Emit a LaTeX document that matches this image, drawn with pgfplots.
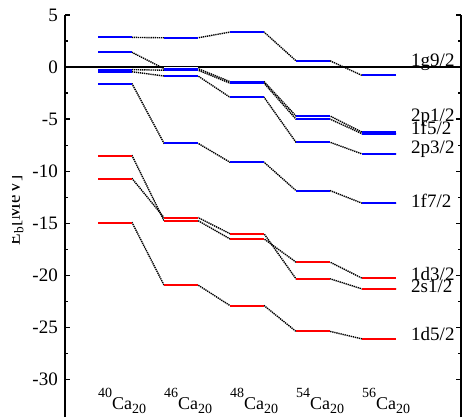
\documentclass[border=0pt]{standalone}
\usepackage{fontspec}
\setmainfont{Liberation Serif}
\usepackage{pgfplots}
\usepackage{pgfplotstable}
\pgfplotsset{compat=1.18}

% level energies (MeV); each nucleus gives two rows: left and right end of its bar
\pgfplotstableread{
x      d52     s12     d32     f72     p32    f52    p12    g92
-0.258 -14.93  -10.70  -8.50   -1.60   -0.45  -0.25  1.41   2.85
0.258  -14.93  -10.70  -8.50   -1.60   -0.45  -0.25  1.41   2.85
0.742  -20.93  -14.45  -14.75  -7.32   -0.86  -0.30  -0.15  2.81
1.258  -20.93  -14.45  -14.75  -7.32   -0.86  -0.30  -0.15  2.81
1.742  -22.90  -16.00  -16.50  -9.14   -2.90  -1.55  -1.40  3.36
2.258  -22.90  -16.00  -16.50  -9.14   -2.90  -1.55  -1.40  3.36
2.742  -25.38  -20.33  -18.73  -11.86  -7.22  -5.00  -4.70  0.60
3.258  -25.38  -20.33  -18.73  -11.86  -7.22  -5.00  -4.70  0.60
3.742  -26.10  -21.30  -20.27  -13.07  -8.34  -6.40  -6.25  -0.80
4.258  -26.10  -21.30  -20.27  -13.07  -8.34  -6.40  -6.25  -0.80
}\levels

\pgfplotsset{
  conn/.style={black, line width=1.4pt, dash pattern=on 1.3pt off 0.8pt},
  lev/.style 2 args={only marks, mark=-, mark size=17pt, #1,
    mark options={solid, line width=#2},
    each nth point=2, filter discard warning=false},
}

\begin{document}
\begin{tikzpicture}
\begin{axis}[
    name=ax,
    scale only axis,
    width=396pt, height=402pt,
    xmin=-0.758, xmax=5.242,
    ymin=-33.6, ymax=5,
    xtick=\empty,
    ytick={-30,-25,...,5},
    minor y tick num=1,
    separate axis lines,
    x axis line style={draw=none},
    y axis line style={line width=1.5pt},
    tick style={black, line width=1.3pt},
    major tick length=5pt, minor tick length=3pt,
    tick align=inside,
    ytick pos=both, yticklabel pos=left,
    tick label style={font=\fontsize{19}{22}\selectfont},
    /pgf/number format/assume math mode=true,
    yticklabel style={xshift=-3.7pt},
    clip=false,
  ]
% dotted connections (their flat parts are hidden under the bars)
\foreach \c in {d52,s12,d32,f72,p32,f52,p12,g92}{
  \addplot[conn] table[x=x, y=\c] {\levels};
}
% white underlay so the flat dotted parts do not show at the bar edges
\foreach \c in {d52,s12,d32,f72,p32,f52,p12,g92}{
  \addplot[lev={white}{3.2pt}] table[x expr=\thisrow{x}+0.258, y=\c] {\levels};
}
\addplot[black, line width=1.5pt] coordinates {(-0.758,0) (5.242,0)};
\foreach \c in {d52,s12,d32}{
  \addplot[lev={red}{2pt}] table[x expr=\thisrow{x}+0.258, y=\c] {\levels};
}
\foreach \c in {f72,p32,f52,p12,g92}{
  \addplot[lev={blue}{2pt}] table[x expr=\thisrow{x}+0.258, y=\c] {\levels};
}

% nucleus names
\foreach \a/\i in {40/0, 46/1, 48/2, 54/3, 56/4}{
  \edef\temp{\noexpand\node[anchor=base west, inner sep=0, font=\noexpand\fontsize{18}{20}\noexpand\selectfont]
    at (axis cs:\i-0.258,-32.85)
    {\noexpand\raisebox{11.5pt}{\noexpand\fontsize{14}{14}\noexpand\selectfont \a}Ca\noexpand\raisebox{-4.5pt}{\noexpand\fontsize{14}{14}\noexpand\selectfont 20}};}
  \temp
}

% level names
\foreach \t/\v in {{1g9/2}/0.05, {2p1/2}/-5.27, {1f5/2}/-6.52, {2p3/2}/-8.34,
                   {1f7/2}/-13.52, {1d3/2}/-20.52, {2s1/2}/-21.67, {1d5/2}/-26.27}{
  \edef\temp{\noexpand\node[anchor=base west, inner sep=0, font=\noexpand\fontsize{19}{22}\noexpand\selectfont]
    at (axis cs:4.485,\v) {\t};}
  \temp
}
\end{axis}

% y label, cut at the left edge as in the reference
\begin{scope}
\clip ([xshift=-52pt]ax.south west) rectangle ([xshift=-36pt]ax.north west);
\node[rotate=90, anchor=base, inner sep=0, font=\fontsize{19}{22}\selectfont]
  at ([xshift=-45pt, yshift=-195pt]ax.north west) {E\textsubscript{b}[MeV]};
\end{scope}

\pgfresetboundingbox
\useasboundingbox ([xshift=-65pt]ax.south west) rectangle ([xshift=1pt, yshift=15pt]ax.north east);
\end{tikzpicture}
\end{document}
